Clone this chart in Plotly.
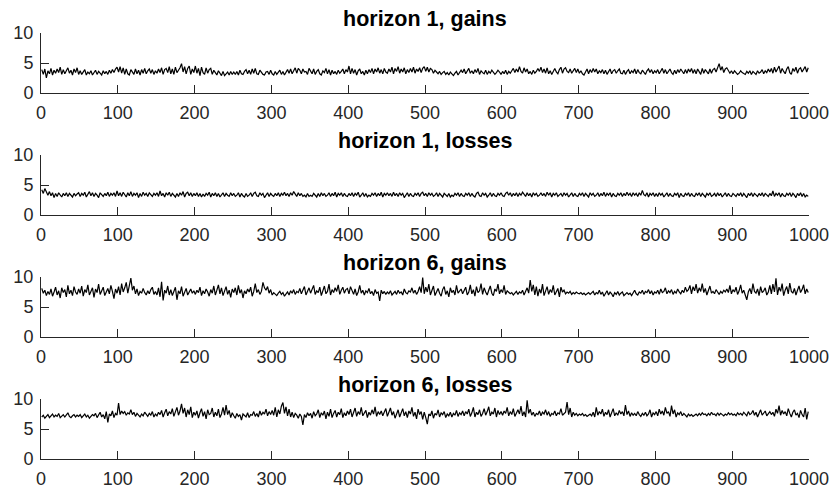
import plotly.graph_objects as go

W, H = 834, 489

titles = ["horizon 1, gains", "horizon 1, losses", "horizon 6, gains", "horizon 6, losses"]
x_ticks = [0, 100, 200, 300, 400, 500, 600, 700, 800, 900, 1000]
y_ticks = [0, 5, 10]
step = 2  # one value read every 2 time steps

h1_gains = [
    3.9,3.1,4.0,2.5,3.7,3.2,4.1,3.0,3.8,3.3,4.0,3.4,4.3,3.1,3.9,3.2,3.7,4.2,3.3,3.8,3.0,4.0,3.4,4.2,3.1,
    3.7,3.1,3.6,3.9,3.0,3.5,3.2,3.7,3.0,3.5,3.8,3.1,3.6,3.3,3.0,3.7,3.2,3.6,3.1,3.8,3.3,3.9,3.4,4.0,4.3,
    3.5,4.4,3.3,4.2,3.1,4.0,3.2,3.0,3.9,3.4,3.1,4.0,3.2,3.8,3.0,3.9,3.3,4.1,3.2,3.7,4.0,3.3,3.9,3.1,3.7,
    3.3,4.0,3.4,4.2,3.1,3.9,4.1,3.4,4.4,3.2,4.0,3.1,4.3,3.4,3.8,4.2,4.9,3.5,4.4,3.2,4.1,4.5,3.1,4.0,3.4,
    4.5,3.3,4.1,2.9,4.3,3.4,3.1,4.2,3.3,3.9,4.1,3.1,3.8,3.4,3.0,3.7,3.2,2.9,3.6,2.9,3.2,3.5,3.0,3.6,3.1,
    3.5,3.1,3.6,3.0,3.8,3.2,3.1,3.6,3.9,3.2,3.8,3.1,4.0,3.3,4.1,3.2,3.1,3.8,3.4,3.1,3.0,3.5,3.6,3.1,3.8,
    3.2,3.0,3.6,3.1,3.5,3.8,3.1,3.6,3.0,3.4,3.9,3.3,4.0,3.2,3.7,4.2,3.3,4.1,3.8,3.2,4.0,3.5,3.6,3.1,4.1,
    3.5,3.2,4.0,3.1,3.6,3.9,3.2,3.0,3.7,3.4,4.1,3.2,3.9,3.0,3.8,3.2,3.6,3.1,3.8,3.3,3.6,4.0,3.2,3.9,3.5,
    4.5,3.2,4.1,3.3,3.9,3.0,3.7,4.0,3.2,3.6,3.0,3.8,3.2,3.9,3.4,4.1,3.2,4.0,3.5,4.2,3.3,3.9,3.2,4.1,3.5,
    3.3,4.0,3.5,4.3,3.2,4.1,3.6,4.4,3.3,4.0,3.5,4.2,3.2,3.9,3.4,4.1,3.5,4.3,3.3,4.0,3.6,4.2,3.4,4.1,4.4,
    3.6,4.3,3.5,4.1,3.9,3.3,3.8,3.5,3.2,3.6,3.1,3.4,3.6,3.1,3.4,3.0,3.5,3.2,2.9,3.3,3.6,3.0,3.5,3.8,3.4,
    4.0,3.2,3.8,4.1,3.3,3.7,3.2,3.9,3.4,4.1,3.1,3.7,3.4,3.2,3.8,3.1,3.6,3.3,3.8,3.5,3.1,3.4,3.8,3.5,3.1,
    3.6,3.2,3.8,3.1,3.6,3.3,3.7,4.1,3.4,4.0,3.5,4.4,3.6,3.3,4.2,3.5,4.0,3.2,3.6,3.1,3.8,3.3,3.6,4.1,3.6,
    4.3,3.4,4.0,3.3,4.2,3.2,3.7,3.1,3.5,4.1,3.5,3.2,3.9,4.3,3.3,4.0,4.2,3.6,3.4,4.0,3.3,3.8,4.1,3.4,4.0,
    3.3,3.7,3.2,3.0,3.5,4.0,3.2,3.9,3.4,4.1,3.5,4.0,3.2,3.7,3.4,3.9,3.2,3.8,3.1,3.6,4.0,3.2,3.7,3.9,3.3,
    3.7,4.0,3.3,3.2,3.8,3.1,3.6,3.9,3.2,3.7,3.4,4.0,3.2,3.9,3.4,3.2,3.8,3.4,3.1,3.7,4.0,3.4,3.9,3.2,3.7,
    3.4,3.9,3.2,3.7,4.1,3.3,3.9,3.2,3.7,4.0,3.4,3.1,3.8,3.2,3.9,3.4,4.0,3.5,3.2,3.9,3.3,4.0,3.5,4.1,3.3,
    3.9,3.2,4.0,3.5,3.1,4.1,3.3,3.9,3.5,3.2,4.0,3.3,3.9,4.1,3.5,4.3,4.9,3.8,4.4,3.4,4.0,4.2,3.6,3.3,3.7,
    3.2,3.7,3.4,3.1,3.3,3.7,3.4,3.2,3.1,3.6,3.3,3.7,3.1,3.6,3.3,3.1,3.7,3.3,3.5,3.9,3.2,3.7,3.4,4.0,3.5,
    4.1,3.3,4.3,3.5,4.0,4.5,3.3,4.1,3.6,3.2,4.0,4.4,3.4,3.1,4.1,3.6,4.3,3.3,4.0,4.2,3.5,4.1,4.4,3.5,4.2,
]

h1_losses = [
    4.2,3.6,4.4,3.8,3.3,3.9,3.2,3.7,2.9,3.6,3.1,3.7,3.3,3.0,3.6,3.2,3.7,3.1,3.6,3.3,3.0,3.6,3.2,3.5,3.7,
    3.1,3.6,3.3,3.8,3.0,3.6,3.9,3.2,3.7,3.1,3.6,3.3,2.9,3.7,3.3,3.1,3.6,3.2,3.8,3.1,3.6,3.3,3.7,3.1,4.0,
    3.2,3.7,3.1,3.8,3.4,3.0,3.7,3.2,3.9,3.1,3.6,3.3,3.7,2.9,3.6,3.1,3.8,3.3,3.6,3.1,3.7,3.3,3.1,3.6,3.3,
    3.7,3.1,4.0,3.2,3.6,3.0,3.7,3.3,3.8,3.1,3.6,3.3,3.0,3.6,3.1,3.7,3.3,3.9,3.0,3.6,3.8,3.2,3.7,3.1,3.6,
    3.2,3.7,3.1,3.6,3.0,3.5,3.1,3.6,3.3,3.8,3.0,3.6,3.2,3.7,3.1,3.6,3.0,3.3,3.7,3.1,3.6,3.3,3.1,3.7,3.2,
    3.6,3.1,3.3,3.7,3.0,3.6,3.2,3.0,3.6,3.1,3.3,3.7,3.1,3.6,3.8,3.2,3.1,3.7,3.3,3.6,2.9,3.3,3.7,3.1,3.6,
    3.3,3.1,3.6,3.2,3.7,3.1,3.6,3.3,3.8,3.2,3.6,3.1,3.7,3.3,3.9,3.4,3.1,3.7,3.2,3.6,3.1,3.3,3.0,3.6,3.1,
    3.3,3.1,3.6,3.3,3.0,3.6,3.1,3.7,3.2,3.6,3.1,3.3,3.7,3.1,3.6,3.2,3.8,3.0,3.6,3.3,3.7,3.1,3.6,3.2,3.1,
    3.6,3.2,3.7,3.1,3.6,3.3,3.8,3.0,3.3,3.7,3.1,3.6,3.0,3.3,3.1,3.6,3.3,3.7,3.1,3.6,3.2,3.8,3.0,3.6,3.3,
    3.7,3.2,3.6,3.1,3.8,3.2,3.6,3.1,3.7,3.3,3.6,2.9,3.3,3.7,3.1,3.6,3.2,3.1,3.6,3.3,3.7,3.1,3.6,3.8,3.2,
    3.6,3.1,3.7,3.3,3.6,3.1,3.3,3.7,3.1,3.6,3.2,3.0,3.6,3.3,3.1,3.6,3.0,3.3,3.1,3.6,3.3,3.7,3.1,3.6,3.2,
    3.1,3.6,3.3,3.7,3.1,3.6,3.2,3.0,3.6,3.8,3.2,3.1,3.7,3.3,3.6,3.0,3.3,3.7,3.1,3.6,3.2,3.1,3.6,3.3,3.7,
    3.2,3.1,3.6,3.8,3.3,3.7,3.1,3.6,3.2,3.7,3.1,3.6,3.3,3.8,3.4,3.1,3.7,3.2,3.6,3.0,3.7,3.3,3.6,3.1,3.3,
    3.7,3.2,3.6,3.1,3.8,3.3,3.7,3.0,3.6,3.3,3.7,3.1,3.3,3.6,3.1,3.7,3.3,3.6,3.0,3.3,3.7,3.1,3.6,3.2,3.1,
    3.6,3.3,3.7,3.1,3.6,3.2,3.0,3.7,3.3,3.6,3.1,3.3,3.7,3.1,3.6,3.2,3.8,3.1,3.6,3.3,3.7,3.0,3.6,3.2,3.1,
    3.6,3.3,3.7,3.1,3.6,3.2,3.8,3.3,3.6,3.1,3.7,3.3,3.6,3.1,3.7,3.3,4.1,3.4,3.2,3.7,3.0,3.6,3.3,3.7,3.1,
    3.6,3.1,3.7,3.3,3.6,3.0,3.3,3.7,3.1,3.6,3.2,3.1,3.6,3.3,3.7,2.9,3.6,3.2,3.1,3.6,3.3,3.7,3.1,3.6,3.2,
    3.1,3.6,3.3,3.7,3.1,3.6,3.2,3.0,3.6,3.3,3.7,3.1,3.3,3.6,3.1,3.7,3.2,3.6,3.0,3.3,3.7,3.1,3.6,3.2,3.1,
    3.6,3.3,3.1,3.6,3.2,3.7,3.1,3.6,3.3,2.9,3.6,3.2,3.7,3.1,3.6,3.3,3.1,3.6,3.2,3.7,3.1,3.6,3.3,3.1,3.6,
    3.2,4.0,3.1,3.6,3.3,3.7,3.0,3.6,3.2,3.1,3.6,3.3,3.7,3.1,3.6,3.3,2.9,3.6,3.2,3.7,3.1,3.6,3.0,3.3,3.1,
]

h6_gains = [
    8.1,7.3,7.8,6.9,7.6,7.1,8.0,6.8,7.5,8.3,7.0,7.7,6.5,8.2,7.4,7.9,6.7,8.6,7.2,7.8,6.9,8.4,7.5,7.1,8.0,
    7.3,8.5,6.8,7.9,7.4,8.7,7.0,7.6,8.2,6.6,8.0,7.4,8.8,7.1,7.7,8.3,6.9,7.5,8.1,7.2,8.6,7.6,6.4,8.0,7.3,
    8.4,7.0,8.9,7.5,8.2,9.1,7.3,8.6,9.8,7.8,8.5,7.2,8.0,6.9,7.6,7.3,8.1,7.4,7.0,7.7,7.2,7.9,8.3,7.1,7.6,
    7.0,8.2,6.7,9.2,6.1,7.8,7.3,8.5,7.0,7.9,6.9,7.6,8.3,6.2,7.7,7.2,8.4,6.8,7.5,8.1,7.0,7.6,8.0,7.3,7.7,
    7.1,7.8,7.4,8.3,6.9,7.7,7.2,8.0,7.5,6.8,7.9,7.3,8.5,7.0,7.8,8.7,7.2,8.2,6.9,7.6,8.4,7.1,7.8,6.6,8.0,
    7.4,8.2,7.0,8.6,7.3,7.9,6.5,7.7,7.2,8.0,7.5,8.3,6.8,7.6,8.9,7.4,7.9,7.1,7.6,9.1,8.2,7.8,8.4,7.3,7.9,
    7.0,7.4,7.2,6.9,7.3,7.6,7.1,7.4,6.8,7.2,7.5,7.0,7.7,7.3,7.9,7.1,7.6,7.4,8.1,7.2,7.8,8.4,7.0,7.6,8.2,
    7.3,7.9,8.6,7.1,7.7,7.4,8.3,6.9,7.8,8.5,7.2,7.6,8.8,7.0,7.9,7.4,8.2,7.6,8.7,7.1,7.8,8.3,7.3,7.9,8.1,
    7.2,8.4,7.6,7.1,8.0,6.9,7.5,8.6,7.3,7.8,7.0,7.7,7.4,8.1,7.2,7.6,6.9,7.9,7.3,7.5,6.0,7.8,7.2,7.6,7.1,
    7.5,7.2,7.7,7.0,7.4,7.6,7.1,7.8,7.3,7.5,7.0,8.0,7.4,7.2,7.7,7.5,8.2,7.3,7.8,7.1,7.6,8.4,7.4,9.9,7.2,
    8.3,7.5,8.8,7.0,7.8,8.5,6.9,7.6,8.1,7.3,6.8,7.9,8.4,7.1,7.7,6.7,8.2,7.4,7.8,7.0,8.6,7.3,7.6,8.0,7.2,
    7.7,8.3,7.0,7.5,8.7,7.2,7.9,6.8,8.4,7.4,7.7,8.9,7.1,8.2,7.5,7.0,7.8,8.5,7.3,6.9,8.0,7.6,8.8,7.2,7.9,
    7.4,8.6,7.1,7.7,7.5,7.2,7.4,7.0,7.3,7.6,7.1,7.5,7.3,7.8,7.0,7.6,8.2,7.3,9.5,7.6,8.7,7.0,8.4,6.8,8.0,
    7.3,8.8,6.9,7.7,8.4,7.1,7.9,7.4,8.6,7.0,7.6,8.1,6.7,8.3,7.5,7.8,7.2,7.5,7.3,7.6,7.1,7.4,7.2,7.5,7.3,
    7.2,7.4,7.1,7.3,7.0,7.2,7.4,7.1,7.3,7.6,7.0,7.4,7.2,7.8,7.1,7.5,6.8,7.3,7.7,7.0,7.5,7.2,6.7,7.4,7.1,
    7.6,7.0,7.3,7.5,6.9,7.2,7.4,7.1,7.3,6.9,7.5,7.8,7.2,7.0,7.5,7.3,7.8,7.1,7.6,7.4,7.9,7.2,7.7,7.0,7.5,
    7.3,7.8,7.1,8.0,7.4,7.6,8.2,7.2,7.7,7.4,7.9,7.1,7.6,7.3,8.0,7.5,7.2,7.8,7.4,8.3,7.6,7.9,8.6,7.2,8.4,
    7.7,8.8,7.3,8.2,7.6,8.9,7.4,8.1,7.0,7.8,8.5,7.3,7.6,7.2,7.9,7.5,7.1,7.6,7.3,7.8,7.5,8.0,7.4,8.6,7.2,
    7.9,7.5,8.3,7.1,7.7,8.7,7.3,7.8,7.0,6.2,7.5,8.1,7.2,8.9,7.6,7.3,8.0,6.9,8.4,7.4,7.7,8.2,7.0,7.5,8.6,
    7.2,8.8,7.5,9.8,7.0,8.3,7.6,8.9,6.9,7.8,8.4,7.2,9.0,7.6,7.3,8.1,7.0,7.8,8.5,7.4,7.9,8.7,7.2,8.0,7.4,
]

h6_losses = [
    7.0,7.3,6.8,7.1,7.4,6.9,7.2,7.5,7.0,7.3,7.1,7.6,6.9,7.2,7.4,7.0,7.3,7.7,7.1,6.9,7.2,7.4,7.0,7.3,7.1,
    7.4,6.9,7.2,7.5,7.0,7.3,6.8,7.1,7.4,7.2,7.6,6.9,7.3,7.8,7.0,7.4,6.7,7.9,6.1,7.5,7.2,8.0,6.9,7.6,7.3,
    9.3,7.4,8.0,7.6,7.9,7.3,7.7,7.5,8.2,7.4,7.8,7.1,7.6,7.3,7.0,7.5,7.2,7.8,7.4,7.1,7.6,7.3,7.9,7.0,7.5,
    7.2,7.8,7.4,8.1,7.0,7.7,8.3,7.2,7.9,7.5,8.4,7.1,7.8,8.6,7.3,8.0,9.2,7.6,8.5,7.0,8.2,7.4,8.7,6.9,7.8,
    7.3,8.0,6.8,7.7,8.4,7.1,7.9,6.7,8.2,7.4,7.6,8.5,7.0,7.8,7.2,8.3,6.9,7.5,8.6,7.3,9.0,7.4,8.1,6.9,7.7,
    7.2,6.8,7.6,7.1,7.4,6.5,7.5,7.2,7.0,7.7,6.9,7.4,7.3,7.9,7.1,7.6,7.0,8.0,7.3,7.8,7.5,8.3,7.2,7.9,7.4,
    8.1,7.3,8.6,7.0,8.2,7.5,8.8,9.4,7.6,8.7,7.2,8.3,7.0,7.8,6.9,7.6,7.3,6.8,7.5,7.1,5.7,7.4,6.9,7.7,7.2,
    7.6,6.8,7.9,7.2,7.5,8.2,6.9,7.7,7.3,8.0,6.7,7.8,7.1,8.3,6.9,7.6,8.1,7.0,7.8,7.4,8.4,6.9,7.7,7.2,8.0,
    7.4,8.3,7.0,7.7,8.5,7.1,7.9,7.4,8.6,7.2,7.6,8.1,6.9,7.8,7.3,8.2,7.5,8.7,7.1,7.9,7.4,8.0,7.2,7.7,8.4,
    7.1,7.8,8.5,7.3,7.9,6.8,7.6,8.2,7.0,7.7,8.4,7.2,7.9,6.9,8.0,7.5,8.6,7.1,7.8,6.7,8.3,7.4,7.9,6.6,7.8,
    6.9,5.8,7.5,7.2,8.0,6.8,7.6,7.3,8.2,7.0,7.7,7.4,7.9,6.9,7.5,7.2,7.8,7.0,7.6,7.3,8.1,7.1,7.7,7.4,8.0,
    7.2,7.9,7.5,8.3,7.1,7.7,8.6,7.0,7.8,7.4,8.2,7.1,7.6,8.4,7.3,7.9,8.7,7.2,7.8,7.5,8.5,7.0,8.1,7.4,7.9,
    7.3,8.0,7.6,8.6,7.2,7.9,7.4,8.4,7.1,7.7,8.2,7.5,8.8,7.2,7.9,7.0,9.8,7.6,8.3,7.3,7.8,7.1,7.6,7.4,8.0,
    7.2,7.8,7.5,8.2,7.3,7.9,7.1,7.6,7.4,8.0,7.2,7.7,7.5,8.4,7.3,7.6,7.8,9.5,7.4,8.5,7.0,7.8,7.3,7.6,7.2,
    7.5,7.3,7.6,7.2,7.4,7.1,7.3,7.5,7.2,7.8,7.0,8.6,7.3,7.9,7.5,8.3,7.1,7.8,7.4,8.2,7.0,7.6,8.4,7.2,7.7,
    7.3,8.1,7.5,7.9,7.2,9.0,7.4,8.0,7.1,7.7,7.3,7.6,7.2,7.9,7.4,7.1,7.6,7.3,7.8,7.2,7.5,8.2,7.0,7.7,7.4,
    7.9,7.2,8.3,7.5,8.0,7.3,8.6,7.6,7.9,7.1,8.9,7.5,8.2,7.0,7.7,7.4,7.9,7.2,7.6,7.3,7.0,7.5,7.2,7.4,7.1,
    7.3,7.5,7.2,7.6,7.3,7.7,7.4,7.5,7.2,7.6,7.3,7.8,7.4,7.5,7.2,7.7,7.3,7.6,7.4,7.2,7.5,7.3,7.7,7.4,7.6,
    7.3,7.5,7.2,7.7,7.4,7.6,7.3,7.8,7.5,7.2,7.9,7.4,7.6,8.1,7.3,7.8,7.0,7.6,8.2,7.3,7.7,8.0,7.2,7.5,7.9,
    7.4,7.8,7.1,8.3,7.6,8.9,7.3,8.1,7.5,7.9,7.2,8.4,7.6,7.0,7.8,8.2,7.3,7.6,6.9,8.1,7.4,7.0,8.5,6.6,7.9,
]

series = [h1_gains, h1_losses, h6_gains, h6_losses]

FONT = "Liberation Sans, Arial, Helvetica, sans-serif"
AX_COLOR = "#262626"

# pixel layout of each panel (top of the plotting area) and sizes
x_left, x_right = 41, 809
panel_tops = [33, 155, 277, 399]
panel_h = 60

fig = go.Figure()
for i, ys in enumerate(series):
    n = i + 1
    xs = [1 + step * k for k in range(len(ys))]
    fig.add_trace(go.Scatter(
        x=xs, y=ys, mode="lines",
        line=dict(color="black", width=1.2),
        xaxis=f"x{n}", yaxis=f"y{n}", showlegend=False, hoverinfo="skip",
    ))
    top = panel_tops[i]
    bot = top + panel_h
    dom_y = [1 - bot / H, 1 - top / H]
    dom_x = [x_left / W, x_right / W]
    common = dict(
        showline=True, linecolor=AX_COLOR, linewidth=1,
        ticks="inside", ticklen=8, tickwidth=1, tickcolor=AX_COLOR,
        showgrid=False, zeroline=False, mirror=False, automargin=False,
        tickfont=dict(family=FONT, size=18, color=AX_COLOR),
        ticklabelstandoff=3, fixedrange=True,
    )
    fig.update_layout(**{
        f"xaxis{n}": dict(domain=dom_x, range=[0, 1000], tickvals=x_ticks,
                          anchor=f"y{n}", **common),
        f"yaxis{n}": dict(domain=dom_y, range=[0, 10], tickvals=y_ticks,
                          anchor=f"x{n}", **common),
    })
    fig.add_annotation(
        text=f"<b>{titles[i]}</b>", xref="paper", yref="paper",
        x=(x_left + x_right) / 2 / W, y=1 - (top - 14) / H,
        xanchor="center", yanchor="middle", showarrow=False,
        font=dict(family=FONT, size=21.5, color="black"),
    )

fig.update_layout(
    width=W, height=H, margin=dict(l=0, r=0, t=0, b=0, autoexpand=False),
    paper_bgcolor="white", plot_bgcolor="white",
)

fig.write_html(
    "out.html",
    config={"displayModeBar": False},
    post_script="document.body.style.margin='0';document.body.style.overflow='hidden';",
)
